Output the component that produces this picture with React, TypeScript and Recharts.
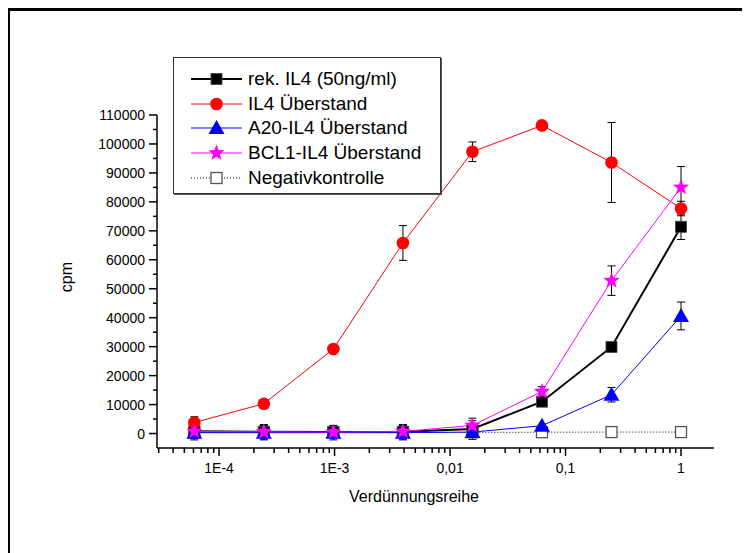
import React from "react";
import { LineChart, Line, XAxis, YAxis, ErrorBar, Legend } from "recharts";

// 4-fold dilution series
const dilution = [0.00006103515625, 0.000244140625, 0.0009765625, 0.00390625, 0.015625, 0.0625, 0.25, 1];

const rekIL4 = [800, 600, 500, 600, 1600, 11000, 29900, 71400];
const rekIL4Err = [2500, 2500, 2000, 2500, 2800, 800, 700, 4400];
const il4Ueberstand = [3800, 10300, 29200, 65800, 97300, 106400, 93600, 77700];
const il4UeberstandErr = [2000, 1200, 700, 6000, 3400, 700, 13800, 2500];
const a20Ueberstand = [300, 300, 300, 300, 500, 2700, 13400, 40600];
const a20UeberstandErr = [2500, 2500, 2500, 2500, 2500, 500, 2500, 4800];
const bcl1Ueberstand = [700, 600, 500, 700, 2800, 14500, 52800, 85000];
const bcl1UeberstandErr = [2000, 2000, 2000, 2000, 2500, 1700, 5100, 7200];
const negativkontrolle = [400, 400, 400, 400, 400, 450, 500, 500];

const xMajorTicks = [1e-4, 1e-3, 1e-2, 1e-1, 1];
const xTickLabels = ["1E-4", "1E-3", "0,01", "0,1", "1"];
const yMajorTicks = [0, 10000, 20000, 30000, 40000, 50000, 60000, 70000, 80000, 90000, 100000, 110000];
const yMinorTicks = [5000, 15000, 25000, 35000, 45000, 55000, 65000, 75000, 85000, 95000, 105000];

const mantissas = [2, 3, 4, 5, 6, 7, 8, 9];
const xMinorTicks: number[] = [];
[1e-5, 1e-4, 1e-3, 1e-2, 1e-1].forEach((dec) => {
  mantissas.forEach((m) => {
    const v = m * dec;
    if (v >= 2.9e-5 && v <= 1.93) xMinorTicks.push(v);
  });
});

const data = dilution.map((d, i) => ({
  x: d,
  rek: rekIL4[i],
  rekErr: rekIL4Err[i],
  il4: il4Ueberstand[i],
  il4Err: il4UeberstandErr[i],
  a20: a20Ueberstand[i],
  a20Err: a20UeberstandErr[i],
  bcl1: bcl1Ueberstand[i],
  bcl1Err: bcl1UeberstandErr[i],
  neg: negativkontrolle[i],
}));

const FONT = "'Liberation Sans', Arial, sans-serif";

type Shape = "square" | "circle" | "triangle" | "star" | "open";

const Marker = ({ shape, cx, cy }: { shape: Shape; cx: number; cy: number }) => {
  if (shape === "square")
    return <rect x={cx - 5.5} y={cy - 5.5} width={11} height={11} fill="#000" stroke="#444" strokeWidth={0.8} />;
  if (shape === "circle") return <circle cx={cx} cy={cy} r={6.3} fill="#ff0000" />;
  if (shape === "triangle")
    return <polygon points={`${cx},${cy - 8} ${cx - 8},${cy + 6} ${cx + 8},${cy + 6}`} fill="#0000ff" />;
  if (shape === "star") {
    const pts: string[] = [];
    for (let k = 0; k < 10; k++) {
      const r = k % 2 === 0 ? 8.5 : 3.6;
      const a = -Math.PI / 2 + (k * Math.PI) / 5;
      pts.push(`${cx + r * Math.cos(a)},${cy + r * Math.sin(a)}`);
    }
    return <polygon points={pts.join(" ")} fill="#ff00ff" />;
  }
  return <rect x={cx - 5.5} y={cy - 5.5} width={11} height={11} fill="#fff" stroke="#555" strokeWidth={1.3} />;
};

const series = [
  { key: "rek", err: "rekErr", name: "rek. IL4 (50ng/ml)", color: "#000000", width: 2, shape: "square" as Shape, dash: undefined },
  { key: "il4", err: "il4Err", name: "IL4 Überstand", color: "#ff0000", width: 1, shape: "circle" as Shape, dash: undefined },
  { key: "a20", err: "a20Err", name: "A20-IL4 Überstand", color: "#0000ff", width: 1, shape: "triangle" as Shape, dash: undefined },
  { key: "bcl1", err: "bcl1Err", name: "BCL1-IL4 Überstand", color: "#ff00ff", width: 1, shape: "star" as Shape, dash: undefined },
  { key: "neg", err: null, name: "Negativkontrolle", color: "#000000", width: 1, shape: "open" as Shape, dash: "1 2" },
];

// negative control goes underneath the others
const drawOrder = [series[4], series[0], series[1], series[2], series[3]];

const XTick = (props: any) => {
  const { x, y, payload } = props;
  const v = payload.value;
  const i = xMajorTicks.findIndex((m) => Math.abs(m - v) / m < 1e-6);
  const major = i >= 0;
  return (
    <g>
      <line x1={x} x2={x} y1={y} y2={y + (major ? 8 : 5)} stroke="#000" strokeWidth={1.5} />
      {major && (
        <text x={x} y={y + 25} textAnchor="middle" fontSize={14} fontFamily={FONT} fill="#000">
          {xTickLabels[i]}
        </text>
      )}
    </g>
  );
};

const YTick = (props: any) => {
  const { x, y, payload } = props;
  const major = yMajorTicks.includes(payload.value);
  return (
    <g>
      <line x1={x - (major ? 8 : 4)} x2={x} y1={y} y2={y} stroke="#000" strokeWidth={1.5} />
      {major && (
        <text x={x - 12} y={y + 5} textAnchor="end" fontSize={14} fontFamily={FONT} fill="#000">
          {payload.value}
        </text>
      )}
    </g>
  );
};

const renderLegend = () => (
  <div
    style={{
      width: 268,
      height: 137,
      boxSizing: "border-box",
      border: "1px solid #333",
      boxShadow: "1px 1px 0 #555",
      background: "#fff",
      paddingTop: 9,
      paddingLeft: 17,
      fontFamily: FONT,
      fontSize: 19,
      color: "#000",
    }}
  >
    {series.map((s) => (
      <div key={s.key} style={{ display: "flex", alignItems: "center", height: 24.6 }}>
        <svg width={51} height={20} style={{ display: "block" }}>
          <line x1={0} x2={51} y1={10} y2={10} stroke={s.color} strokeWidth={s.width} strokeDasharray={s.dash} />
          <Marker shape={s.shape} cx={25.5} cy={10} />
        </svg>
        <span style={{ marginLeft: 6, whiteSpace: "nowrap", lineHeight: "24px" }}>{s.name}</span>
      </div>
    ))}
  </div>
);

export default function App() {
  return (
    <div style={{ position: "relative", width: 742, height: 545 }}>
      <div
        style={{
          position: "absolute",
          left: 0,
          top: 0,
          width: 742,
          height: 545,
          boxSizing: "border-box",
          borderTop: "3px solid #000",
          borderLeft: "2px solid #000",
        }}
      />
      <LineChart width={742} height={545} data={data} margin={{ top: 107, right: 36, bottom: 45, left: 89 }}>
        <XAxis
          dataKey="x"
          type="number"
          scale="log"
          domain={[2.9e-5, 1.93]}
          allowDataOverflow
          ticks={[...xMinorTicks, ...xMajorTicks].sort((a, b) => a - b)}
          interval={0}
          height={60}
          tickSize={0}
          tickMargin={0}
          tickLine={false}
          tick={<XTick />}
          axisLine={{ stroke: "#000", strokeWidth: 1.5 }}
          label={() => (
            <text x={406} y={494} textAnchor="middle" fontSize={16} fontFamily={FONT} fill="#000">
              Verdünnungsreihe
            </text>
          )}
        />
        <YAxis
          type="number"
          domain={[-5000, 110000]}
          allowDataOverflow
          ticks={[...yMajorTicks, ...yMinorTicks].sort((a, b) => a - b)}
          interval={0}
          width={60}
          tickSize={0}
          tickMargin={0}
          tickLine={false}
          tick={<YTick />}
          axisLine={{ stroke: "#000", strokeWidth: 1.5 }}
          label={() => (
            <text
              x={64}
              y={269}
              transform="rotate(-90 64 269)"
              textAnchor="middle"
              fontSize={16}
              fontFamily={FONT}
              fill="#000"
            >
              cpm
            </text>
          )}
        />
        <Legend
          layout="horizontal"
          verticalAlign="middle"
          align="center"
          content={renderLegend}
          wrapperStyle={{ left: 165, top: 49, width: 268, height: 137 }}
        />
        {drawOrder.map((s) => (
          <Line
            key={s.key}
            dataKey={s.key}
            name={s.name}
            type="linear"
            stroke={s.color}
            strokeWidth={s.width}
            strokeDasharray={s.dash}
            isAnimationActive={false}
            dot={(p: any) => <Marker key={`${s.key}-${p.index}`} shape={s.shape} cx={p.cx} cy={p.cy} />}
            activeDot={false}
          >
            {s.err && <ErrorBar dataKey={s.err} width={4} stroke="#000" strokeWidth={1} direction="y" />}
          </Line>
        ))}
      </LineChart>
    </div>
  );
}
